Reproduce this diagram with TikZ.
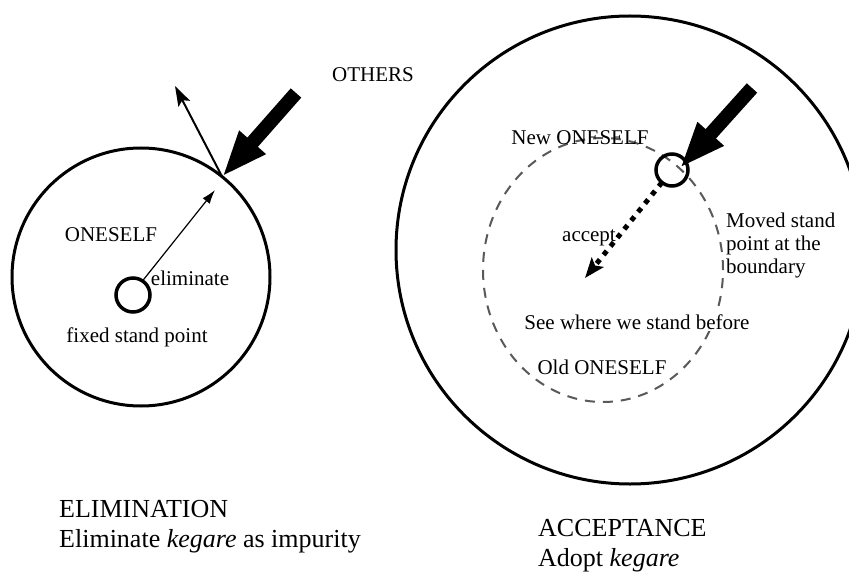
\documentclass[tikz,border=0pt]{standalone}
\usepackage{fontspec}
\setmainfont{Liberation Serif}
\usepackage{tikz}
\usetikzlibrary{arrows.meta,positioning,calc}

\begin{document}
\begin{tikzpicture}[x=1pt,y=-1pt]
  \tikzstyle{rim}=[circle,draw,line width=3pt,inner sep=0pt,outer sep=0pt]
  \tikzstyle{spot}=[circle,draw,line width=3.5pt,inner sep=0pt,outer sep=0pt]
  \tikzstyle{lbl}=[font=\fontsize{21}{23}\selectfont,inner sep=1pt]
  \tikzstyle{mask}=[lbl,fill=white,inner sep=2pt]
  \tikzstyle{heading}=[font=\fontsize{26}{30}\selectfont,align=left,inner sep=0pt,anchor=north west]
  \tikzstyle{push}=[line width=14pt,-{Triangle[length=46pt,width=32pt]}]
  \useasboundingbox (0,0) rectangle (849,575);
  \clip (0,0) rectangle (849,575);
  \fill[white] (0,0) rectangle (849,575);
  \node[rim,minimum size=258pt] (oneself) at (141,277) {};
  \node[spot,minimum size=34pt] (fixed) at (133,295) {};
  \node[rim,minimum size=468pt] (others) at (630,250) {};
  \draw[line width=2pt,dash pattern=on 10pt off 8pt,gray!70!black] (603,270) ellipse [x radius=120pt,y radius=132pt];
  \node[spot,minimum size=32pt] (moved) at (672,170) {};
  \coordinate (hit) at (oneself.51.5);
  \coordinate (elimend) at (215,190);
  \coordinate (bounce) at (175,86);
  \coordinate (pushL) at (296,93);
  \coordinate (pushR) at (752,88);
  \coordinate (reach) at (680,168);
  \coordinate (accend) at (585,278);
  \draw[line width=1.2pt,-{Latex[length=14pt,width=9pt]}] (fixed.56) -- (elimend);
  \draw[line width=2pt,-{Stealth[length=20pt,width=13pt,inset=4pt]}] (hit) -- (bounce);
  \draw[push] (pushL) -- (hit);
  \draw[push] (pushR) -- (reach);
  \draw[line width=5pt,dash pattern=on 5pt off 6pt,-{Stealth[length=20pt,width=15pt,inset=4pt]}] (moved.231) -- (accend);
  \node[lbl] (oth) at (373,75) {OTHERS};
  \node[lbl] (self) at (111,235) {ONESELF};
  \node[lbl] (elim) at (190,278) {eliminate};
  \node[lbl] (fix) at (137,337) {fixed stand point};
  \node[lbl] (newself) at (580,138) {New ONESELF};
  \node[lbl] (acc) at (589,238) {accept};
  \node[mask,align=left,anchor=north west,inner sep=0pt] (mov) at (726,213) {Moved stand\\point at the\\boundary};
  \node[mask] (see) at (637,322) {See where we stand before};
  \node[mask] (oldself) at (602,367) {Old ONESELF};
  \node[heading] (elimhead) at (59,500) {ELIMINATION\\Eliminate \textit{kegare} as impurity};
  \node[heading] (acchead) at (538,519) {ACCEPTANCE\\Adopt \textit{kegare}};
\end{tikzpicture}
\end{document}
